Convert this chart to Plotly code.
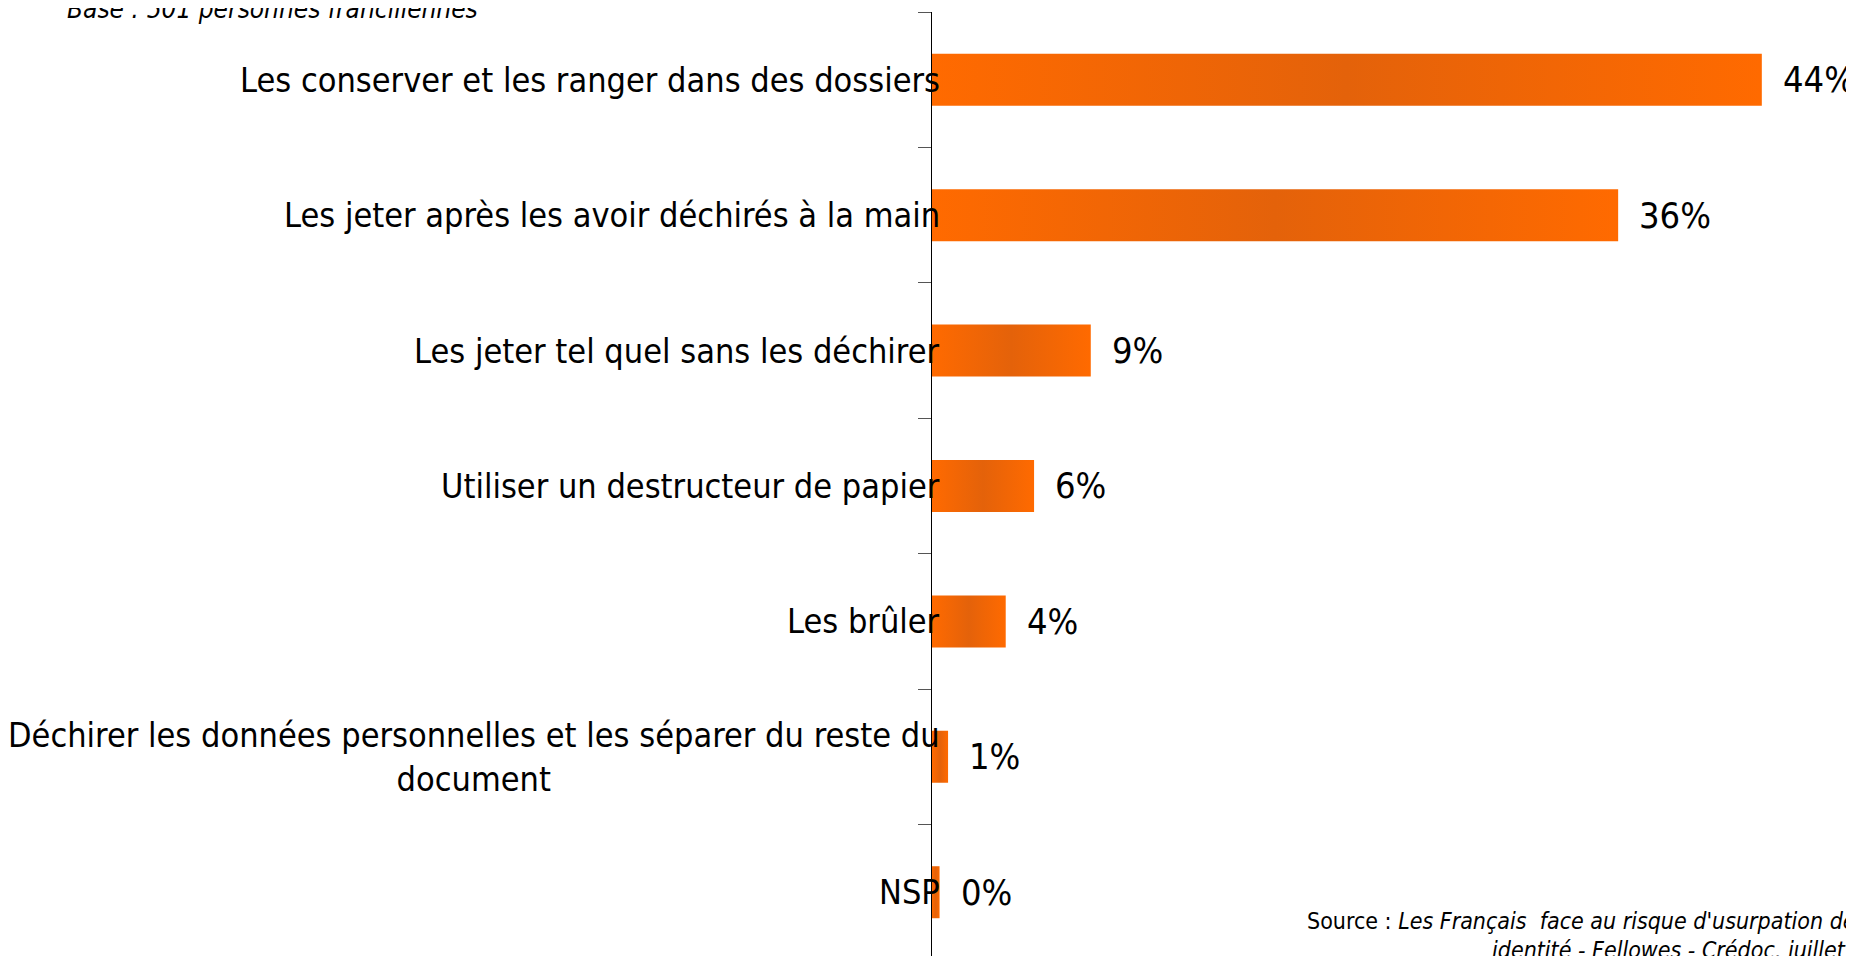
import plotly.graph_objects as go

# Survey answers (top to bottom) and shares in %
categories = [
    "Les conserver et les ranger dans des dossiers",
    "Les jeter après les avoir déchirés à la main",
    "Les jeter tel quel sans les déchirer",
    "Utiliser un destructeur de papier",
    "Les brûler",
    "Déchirer les données personnelles et les séparer du reste du<br>document",
    "NSP",
]
values = [43.9, 36.3, 8.4, 5.4, 3.9, 0.85, 0.4]
value_labels = ["44%", "36%", "9%", "6%", "4%", "1%", "0%"]

FONT = "DejaVu Sans Condensed"
HALF = 0.192  # half bar thickness, in category units

fig = go.Figure()

# bars drawn as filled shapes so they can carry the horizontal gradient
for i, v in enumerate(values):
    fig.add_trace(go.Scatter(
        x=[0, v, v, 0, 0],
        y=[i - HALF, i - HALF, i + HALF, i + HALF, i - HALF],
        mode="lines",
        fill="toself",
        line=dict(width=0),
        fillgradient=dict(
            type="horizontal",
            colorscale=[[0, "#ff6a00"], [0.5, "#e4620a"], [1, "#ff6a00"]],
        ),
        hoverinfo="skip",
        showlegend=False,
    ))


def fnt(size):
    return dict(family=FONT, size=size, color="black")


annotations = []
for i, (cat, v, lab) in enumerate(zip(categories, values, value_labels)):
    annotations.append(dict(
        x=0, y=i, xref="x", yref="y", text=cat, showarrow=False,
        xanchor="right", yanchor="middle", align="center", xshift=10,
        font=fnt(34),
    ))
    annotations.append(dict(
        x=v, y=i, xref="x", yref="y", text=lab, showarrow=False,
        xanchor="left", yanchor="middle", xshift=19,
        font=fnt(36),
    ))

annotations.append(dict(
    x=-0.932, y=1, xref="paper", yref="paper", yshift=3,
    text="<i>Base : 501 personnes franciliennes</i>", showarrow=False,
    xanchor="left", yanchor="middle",
    font=fnt(26),
))
annotations.append(dict(
    x=1.047, y=0.0452, xref="paper", yref="paper",
    text="Source : <i>Les Français  face au risque d'usurpation de leur</i>",
    showarrow=False, xanchor="right", yanchor="middle",
    font=fnt(23),
))
annotations.append(dict(
    x=1.047, y=0.0152, xref="paper", yref="paper",
    text="<i>identité - Fellowes - Crédoc, juillet 2009</i>",
    showarrow=False, xanchor="right", yanchor="middle",
    font=fnt(23),
))

fig.update_layout(
    width=1854,
    height=956,
    margin=dict(l=924, r=0, t=4, b=0),
    paper_bgcolor="white",
    plot_bgcolor="white",
    font=dict(family=FONT),
    annotations=annotations,
    xaxis=dict(
        range=[0, 49.2],
        visible=False,
        fixedrange=True,
    ),
    yaxis=dict(
        range=[6.53, -0.5],
        showgrid=False,
        zeroline=False,
        showline=True,
        linecolor="black",
        linewidth=1,
        ticks="outside",
        ticklen=13,
        tickcolor="#555555",
        tickvals=[k - 0.5 for k in range(len(categories) + 1)],
        ticktext=[""] * (len(categories) + 1),
        fixedrange=True,
    ),
)

fig.write_html("out.html")
